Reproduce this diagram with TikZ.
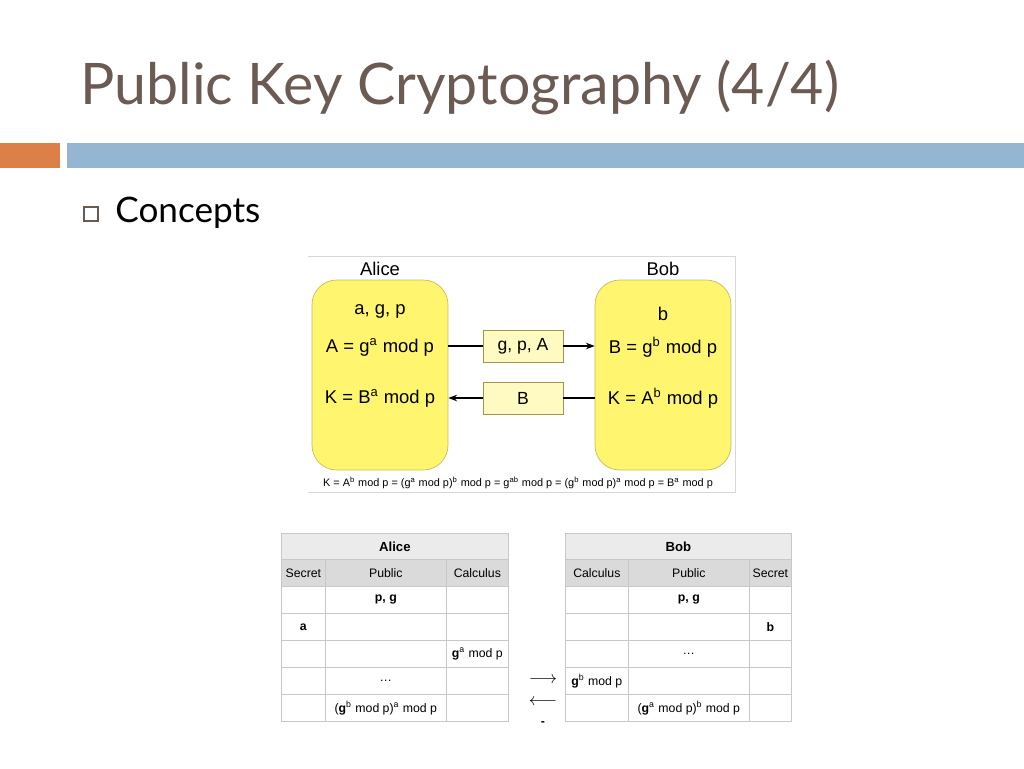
\documentclass[tikz,border=0pt]{standalone}
\usepackage{fontspec}
\setmainfont{Liberation Sans}
\newfontfamily\titlefont{Lato}
\usetikzlibrary{arrows.meta,positioning}
\definecolor{slidebrown}{HTML}{6B5B52}
\definecolor{barorange}{HTML}{DD8047}
\definecolor{barblue}{HTML}{94B6D2}
\definecolor{boxyellow}{HTML}{FFF56E}
\definecolor{boxedge}{HTML}{C9BB5A}
\definecolor{msgyellow}{HTML}{FFFAC2}
\definecolor{gridgray}{HTML}{C8C8C8}
\definecolor{headgray}{HTML}{EBEBEB}
\definecolor{subgray}{HTML}{DADADA}
\newcommand{\sps}[1]{\textsuperscript{#1}}
\tikzset{
  party/.style={draw=boxedge, fill=boxyellow, rounded corners=14pt, minimum width=2.72cm, minimum height=3.8cm},
  msg/.style={draw=boxedge!80!black, fill=msgyellow, minimum width=1.6cm, minimum height=0.64cm, font=\fontsize{10}{12}\selectfont},
  ptext/.style={font=\fontsize{10.5}{12}\selectfont},
  cell/.style={draw=gridgray, anchor=north west, inner sep=0pt, font=\fontsize{7}{8}\selectfont}
}
\begin{document}
\begin{tikzpicture}[x=0.02cm, y=-0.02cm]
		\useasboundingbox (0,0) rectangle (1024,768);
		% title and bars
		\node[anchor=base west, text=slidebrown, inner sep=0pt] (title) at (80,104) {\titlefont\fontsize{32.6}{40}\selectfont Public Key Cryptography (4/4)};
		\fill[barorange] (0,143) rectangle (60,168);
		\fill[barblue] (67,143) rectangle (1024,168);
		\draw[slidebrown, line width=0.6pt] (84,207) rectangle (98,221);
		\node[anchor=base west, inner sep=0pt] (concepts) at (115,222) {\titlefont\fontsize{20}{24}\selectfont Concepts};

		% exchange figure
		\draw[gridgray!70] (308,256) -- (735,256) -- (735,492) -- (308,492);
		\node[party] (alice) at (380,375) {};
		\node[party] (bob) at (663,375) {};
		\node[ptext] (alicelbl) at (380,269) {Alice};
		\node[ptext] (boblbl) at (663,269) {Bob};
		\node[ptext] (asec) at (380,311) {a, g, p};
		\node[ptext] (acalc) at (380,347) {A = g\sps{a} mod p};
		\node[ptext] (akey) at (380,398) {K = B\sps{a} mod p};
		\node[ptext] (bsec) at (663,314) {b};
		\node[ptext] (bcalc) at (663,347) {B = g\sps{b} mod p};
		\node[ptext] (bkey) at (663,398) {K = A\sps{b} mod p};
		\node[msg] (m1) at (523,346) {g, p, A};
		\node[msg] (m2) at (523,398) {B};
		\draw[line width=0.8pt] (alice.east |- m1) -- (m1);
		\draw[line width=0.8pt, -{Stealth[length=5pt]}] (m1) -- (bob.west |- m1);
		\draw[line width=0.8pt] (bob.west |- m2) -- (m2);
		\draw[line width=0.8pt, -{Stealth[length=5pt]}] (m2) -- (alice.east |- m2);
		\node[font=\fontsize{6.2}{8}\selectfont] (formula) at (518,483)
		  {K = A\sps{b} mod p = (g\sps{a} mod p)\sps{b} mod p = g\sps{ab} mod p = (g\sps{b} mod p)\sps{a} mod p = B\sps{a} mod p};

		% Alice table
		\node[cell, fill=headgray, minimum width=4.54cm, minimum height=0.52cm, font=\fontsize{7.5}{8}\selectfont\bfseries] (ta) at (281,533) {Alice};
		\node[cell, fill=subgray, minimum width=0.88cm, minimum height=0.54cm] (ta1) at (281,559) {Secret};
		\node[cell, fill=subgray, minimum width=2.42cm, minimum height=0.54cm] (ta2) at (325,559) {Public};
		\node[cell, fill=subgray, minimum width=1.24cm, minimum height=0.54cm] (ta3) at (446,559) {Calculus};
		\foreach \r/\s/\p/\c in {0/{}/{\bfseries p, g}/{},
		                         1/{\bfseries a}/{}/{},
		                         2/{}/{}/{{\bfseries g}\sps{a} mod p},
		                         3/{}/{\dots}/{},
		                         4/{}/{({\bfseries g}\sps{b} mod p)\sps{a} mod p}/{}} {
		  \node[cell, minimum width=0.88cm, minimum height=0.54cm] (as\r) at (281,586+27*\r) {\s};
		  \node[cell, minimum width=2.42cm, minimum height=0.54cm] (ap\r) at (325,586+27*\r) {\p};
		  \node[cell, minimum width=1.24cm, minimum height=0.54cm] (ac\r) at (446,586+27*\r) {\c};
		}

		% Bob table
		\node[cell, fill=headgray, minimum width=4.52cm, minimum height=0.52cm, font=\fontsize{7.5}{8}\selectfont\bfseries] (tb) at (565,533) {Bob};
		\node[cell, fill=subgray, minimum width=1.26cm, minimum height=0.54cm] (tb1) at (565,559) {Calculus};
		\node[cell, fill=subgray, minimum width=2.42cm, minimum height=0.54cm] (tb2) at (628,559) {Public};
		\node[cell, fill=subgray, minimum width=0.84cm, minimum height=0.54cm] (tb3) at (749,559) {Secret};
		\foreach \r/\c/\p/\s in {0/{}/{\bfseries p, g}/{},
		                         1/{}/{}/{\bfseries b},
		                         2/{}/{\dots}/{},
		                         3/{{\bfseries g}\sps{b} mod p}/{}/{},
		                         4/{}/{({\bfseries g}\sps{a} mod p)\sps{b} mod p}/{}} {
		  \node[cell, minimum width=1.26cm, minimum height=0.54cm] (bc\r) at (565,586+27*\r) {\c};
		  \node[cell, minimum width=2.42cm, minimum height=0.54cm] (bp\r) at (628,586+27*\r) {\p};
		  \node[cell, minimum width=0.84cm, minimum height=0.54cm] (bs\r) at (749,586+27*\r) {\s};
		}
		\node (right) at (543,680) {$\longrightarrow$};
		\node (left) at (543,702) {$\longleftarrow$};
		\node (dash) at (543,724) {\fontsize{7}{8}\selectfont\bfseries -};
	\end{tikzpicture}
\end{document}
